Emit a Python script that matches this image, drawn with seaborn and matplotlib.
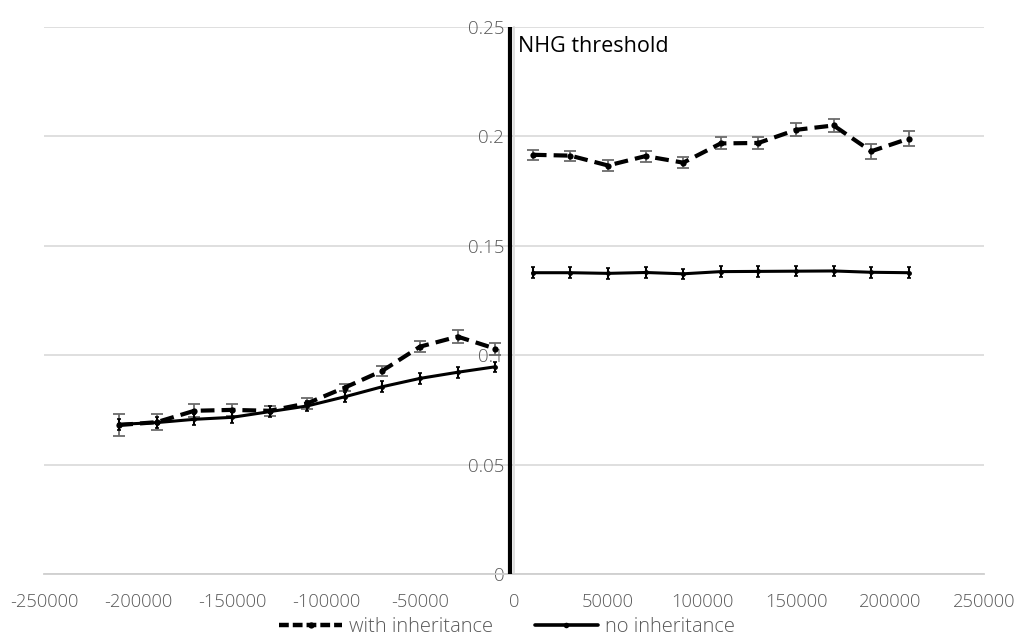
import matplotlib
matplotlib.use("Agg")
import matplotlib.pyplot as plt
from matplotlib.lines import Line2D
import seaborn as sns
import pandas as pd

# ---- data ----
x_left = [-210000, -190000, -170000, -150000, -130000, -110000, -90000, -70000, -50000, -30000, -10000]
x_right = [10000, 30000, 50000, 70000, 90000, 110000, 130000, 150000, 170000, 190000, 210000]

with_left = [0.0681, 0.0694, 0.0746, 0.0750, 0.0746, 0.0780, 0.0852, 0.0929, 0.1039, 0.1085, 0.1030]
with_left_err = [0.0049, 0.0038, 0.0030, 0.0029, 0.0023, 0.0025, 0.0016, 0.0023, 0.0025, 0.0029, 0.0027]
with_right = [0.1916, 0.1912, 0.1867, 0.1910, 0.1880, 0.1968, 0.1970, 0.2030, 0.2050, 0.1932, 0.1990]
with_right_err = [0.0023, 0.0023, 0.0027, 0.0025, 0.0025, 0.0027, 0.0027, 0.0029, 0.0030, 0.0034, 0.0034]

no_left = [0.0684, 0.0692, 0.0707, 0.0716, 0.0742, 0.0768, 0.0810, 0.0856, 0.0894, 0.0922, 0.0947]
no_left_err = [0.0024] * 11
no_right = [0.1377, 0.1377, 0.1374, 0.1378, 0.1372, 0.1382, 0.1383, 0.1384, 0.1385, 0.1379, 0.1377]
no_right_err = [0.0024] * 11

x_ticks = [-250000, -200000, -150000, -100000, -50000, 0, 50000, 100000, 150000, 200000, 250000]
y_ticks = [0, 0.05, 0.1, 0.15, 0.2, 0.25]
y_tick_labels = ["0", "0.05", "0.1", "0.15", "0.2", "0.25"]
series_names = ["with inheritance", "no inheritance"]
threshold_label = "NHG threshold"

# ---- style ----
sns.set_theme(style="white")
plt.rcParams["font.family"] = ["Open Sans", "DejaVu Sans"]
plt.rcParams["axes.unicode_minus"] = False

GRAY_TXT = "#595959"
GRID = "#d9d9d9"
ERR = "#6b6b6b"
DASH = (0, (3.3, 1.7))

fig = plt.figure(figsize=(10.14, 6.36), dpi=100)
ax = fig.add_axes([44 / 1014, 1 - 574 / 636, 940 / 1014, 547 / 636])
ax.set_axisbelow(True)

segments = [
    (x_left, with_left, with_left_err, no_left, no_left_err),
    (x_right, with_right, with_right_err, no_right, no_right_err),
]

for xs, wy, we, ny, ne in segments:
    dfw = pd.DataFrame({"x": xs, "y": wy})
    dfn = pd.DataFrame({"x": xs, "y": ny})
    ax.errorbar(xs, wy, yerr=we, fmt="none", ecolor=ERR, elinewidth=1.3,
                capsize=4, capthick=1.3, zorder=3)
    ax.errorbar(xs, ny, yerr=ne, fmt="none", ecolor="black", elinewidth=1.5,
                capsize=1.2, capthick=1.2, zorder=3)
    sns.lineplot(data=dfw, x="x", y="y", ax=ax, color="black", linewidth=3.0,
                 linestyle=DASH, marker="o", markersize=4.5, markeredgewidth=0,
                 zorder=4, estimator=None, sort=False)
    sns.lineplot(data=dfn, x="x", y="y", ax=ax, color="black", linewidth=2.2,
                 marker="o", markersize=3.5, markeredgewidth=0,
                 zorder=4, estimator=None, sort=False)

# threshold line
ax.axvline(-2000, color="black", linewidth=3.0, zorder=5)
ax.text(2200, 0.2413, threshold_label, ha="left", va="center",
        fontsize=15.5, color="black")

# axes
ax.set_xlim(-250000, 250000)
ax.set_ylim(0, 0.25)
ax.set_xticks(x_ticks)
ax.set_xticklabels([str(v) for v in x_ticks])
ax.set_yticks(y_ticks)
ax.set_yticklabels(y_tick_labels)
ax.set_xlabel("")
ax.set_ylabel("")

ax.yaxis.grid(True, color=GRID, linewidth=1.2)
ax.xaxis.grid(False)

for s in ["top", "right"]:
    ax.spines[s].set_visible(False)
ax.spines["left"].set_position(("data", 0))
ax.spines["left"].set_color(GRID)
ax.spines["left"].set_linewidth(1.2)
ax.spines["left"].set_zorder(0.6)
ax.spines["bottom"].set_color("#cfcfcf")
ax.spines["bottom"].set_linewidth(1.3)

ax.tick_params(axis="y", length=0, pad=7, labelsize=13.5, labelcolor=GRAY_TXT)
ax.tick_params(axis="x", length=0, pad=14, labelsize=13.2, labelcolor=GRAY_TXT)
for lab in ax.get_xticklabels() + ax.get_yticklabels():
    lab.set_fontweight("light")

# legend
handles = [
    Line2D([], [], color="black", linewidth=3.2, linestyle=(0, (2.2, 0.9)),
           marker="o", markersize=4.5, markeredgewidth=0),
    Line2D([], [], color="black", linewidth=2.6, marker="o", markersize=4,
           markeredgewidth=0),
]
leg = fig.legend(handles, series_names, loc="center", bbox_to_anchor=(0.5, 1 - 627 / 636),
                 ncol=2, frameon=False, fontsize=14.5, handlelength=3.1,
                 handletextpad=0.35, columnspacing=2.1, numpoints=1)
for t in leg.get_texts():
    t.set_color(GRAY_TXT)
    t.set_fontweight("light")

fig.savefig("out.png", dpi=100)
